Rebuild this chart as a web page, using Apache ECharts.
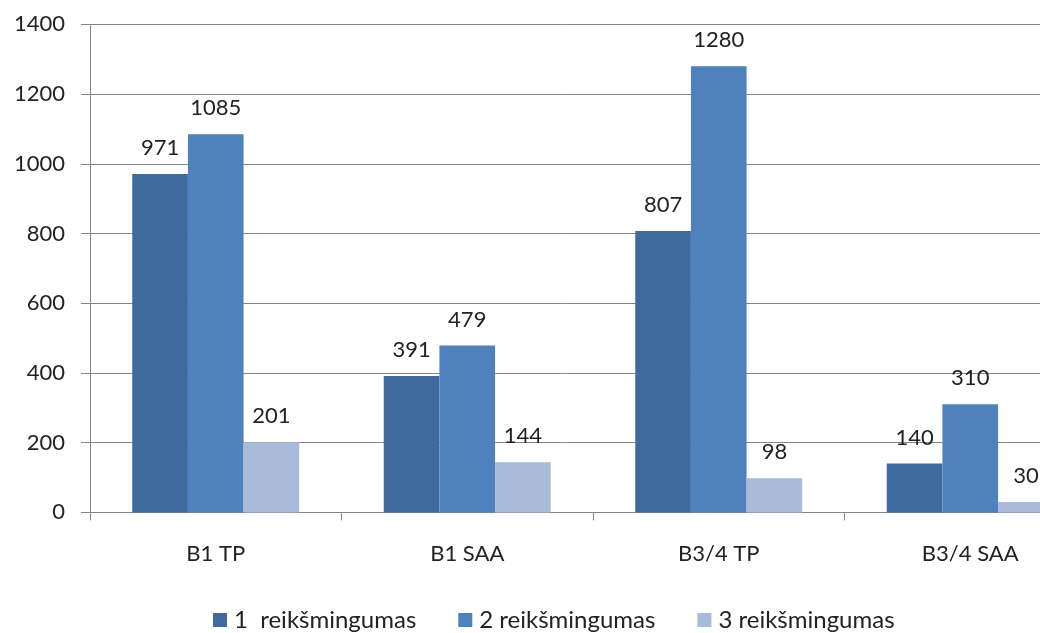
<!DOCTYPE html>
<html><head><meta charset="utf-8">
<script src="https://cdn.jsdelivr.net/npm/echarts@6/dist/echarts.min.js"></script>
<style>html,body{margin:0;padding:0;background:#fff}#c{width:1040px;height:633px}</style>
</head><body><div id="c"></div>
<script>
const categories = ['B1 TP', 'B1 SAA', 'B3/4 TP', 'B3/4 SAA'];
const seriesNames = ['1  reikšmingumas', '2 reikšmingumas', '3 reikšmingumas'];
const s1 = [971, 391, 807, 140];
const s2 = [1085, 479, 1280, 310];
const s3 = [201, 144, 98, 30];
const yTicks = [0, 200, 400, 600, 800, 1000, 1200, 1400];
const colors = ['#3F6A9E', '#4F81BD', '#A9BBD9'];
const font = 'Lato, "Open Sans", sans-serif';
const chart = echarts.init(document.getElementById('c'), null, {renderer: 'canvas'});
const mk = (name, data, i) => ({
  name, type: 'bar', data, barGap: 0, barCategoryGap: '33.6%',
  itemStyle: {color: colors[i]},
  label: {show: true, position: 'top', distance: 15, color: '#222', fontSize: 22, fontFamily: font},
  animation: false
});
chart.setOption({
  animation: false,
  grid: {left: 90, top: 24.4, right: -56, bottom: 120.6, containLabel: false, outerBoundsMode: 'none'},
  legend: {
    top: 608, left: 213, itemWidth: 14, itemHeight: 14, itemGap: 42, padding: 0,
    icon: 'rect',
    textStyle: {fontSize: 24, color: '#222', fontFamily: font, padding: [0, 0, 0, 2]},
    data: seriesNames
  },
  xAxis: {
    type: 'category', data: categories, boundaryGap: true,
    axisLine: {lineStyle: {color: '#868686', width: 1}},
    axisTick: {show: true, length: 8, lineStyle: {color: '#868686'}, alignWithLabel: false},
    axisLabel: {margin: 31, fontSize: 22, color: '#222', fontFamily: font}
  },
  yAxis: {
    type: 'value', min: yTicks[0], max: yTicks[yTicks.length - 1], interval: 200,
    axisLine: {show: true, lineStyle: {color: '#868686'}},
    axisTick: {show: true, length: 9, lineStyle: {color: '#868686'}},
    splitLine: {lineStyle: {color: '#868686', width: 1}},
    axisLabel: {margin: 25, fontSize: 22, color: '#222', fontFamily: font, formatter: v => String(v)}
  },
  series: [mk(seriesNames[0], s1, 0), mk(seriesNames[1], s2, 1), mk(seriesNames[2], s3, 2)]
});
</script></body></html>
